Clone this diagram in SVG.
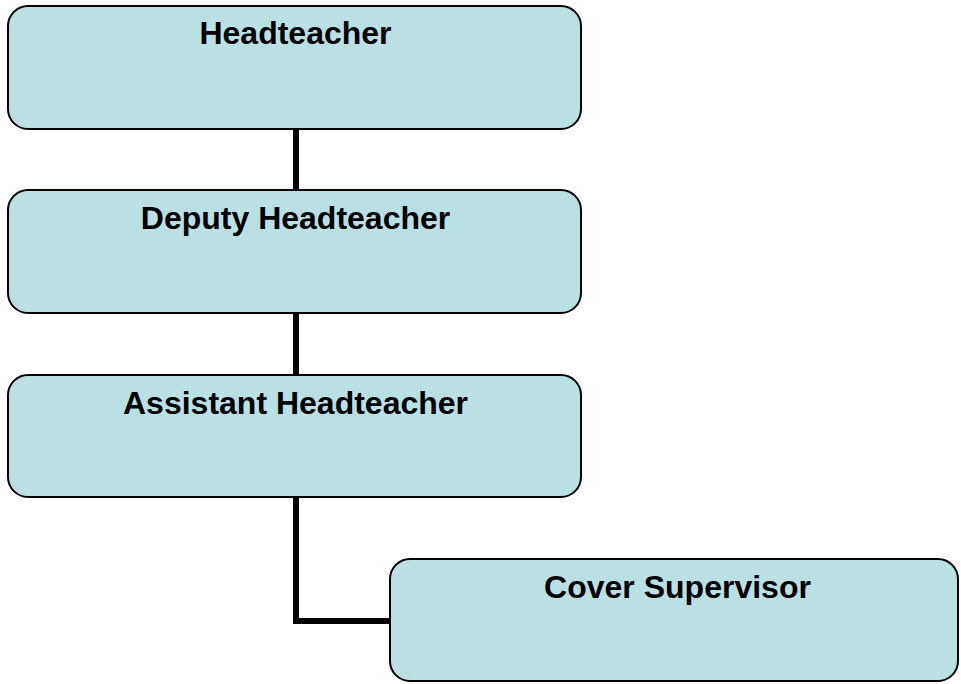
<svg xmlns="http://www.w3.org/2000/svg" width="961" height="684" viewBox="0 0 961 684">
<style>
.box{fill:#BBE0E3;stroke:#000;stroke-width:2}
.lbl{font-family:"Liberation Sans",Arial,sans-serif;font-weight:bold;font-size:32px;fill:#000;text-anchor:middle}
.conn{fill:none;stroke:#000;stroke-width:6}
</style>
<rect width="961" height="684" fill="#fff"/>
<g id="connectors">
<line class="conn" x1="296" y1="129" x2="296" y2="191"/>
<line class="conn" x1="296" y1="313" x2="296" y2="376"/>
<polyline class="conn" points="296,497 296,621 391,621"/>
</g>
<g id="headteacher">
<rect class="box" x="8" y="6" width="573" height="123" rx="20"/>
<text class="lbl" x="295.5" y="44">Headteacher</text>
</g>
<g id="deputy">
<rect class="box" x="8" y="190" width="573" height="123" rx="20"/>
<text class="lbl" x="295.5" y="229">Deputy Headteacher</text>
</g>
<g id="assistant">
<rect class="box" x="8" y="375" width="573" height="122" rx="20"/>
<text class="lbl" x="295.5" y="414">Assistant Headteacher</text>
</g>
<g id="cover">
<rect class="box" x="390" y="559" width="568" height="122" rx="20"/>
<text class="lbl" x="677.5" y="598">Cover Supervisor</text>
</g>
</svg>
